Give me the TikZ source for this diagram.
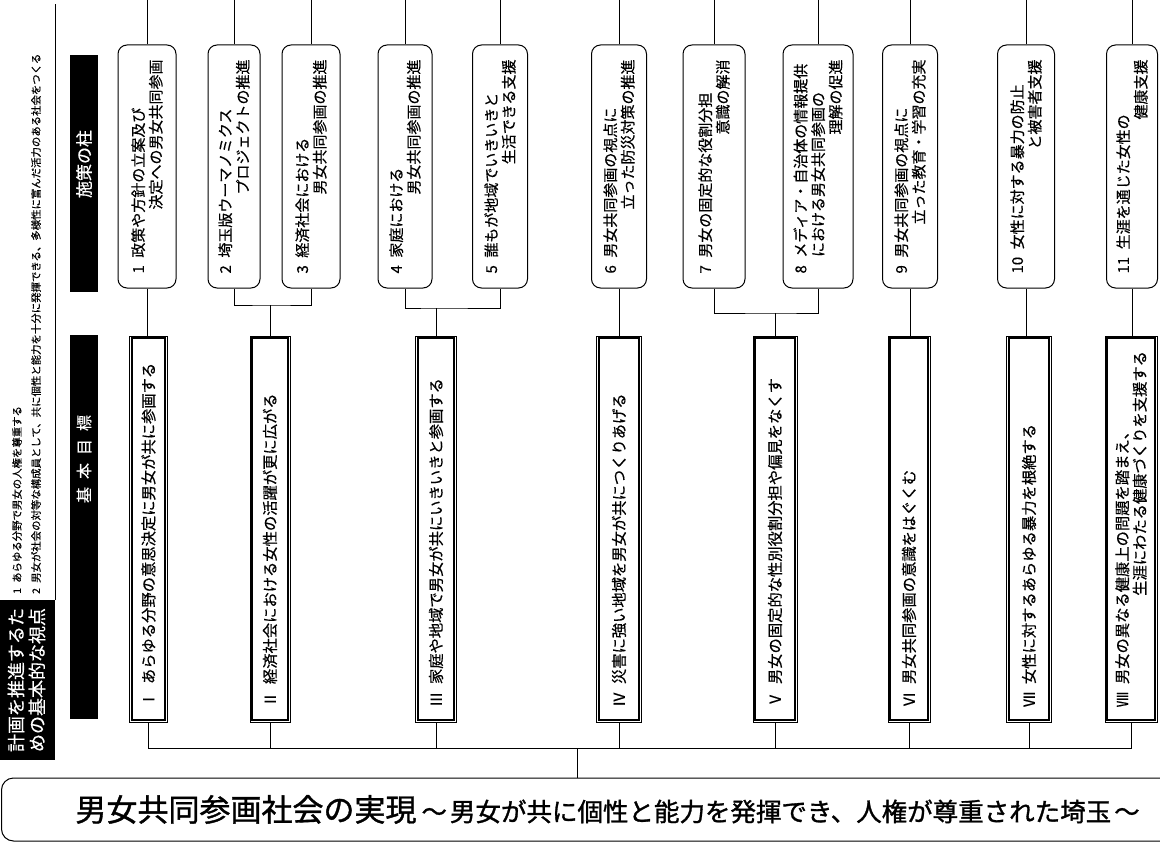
\documentclass[tikz,border=0pt]{standalone}
\usepackage{fontspec}
\newfontfamily\jpfont[FakeBold=0.4]{Noto Sans CJK JP}
\newfontfamily\jpbold[FakeBold=1.2]{Noto Sans CJK JP}
\usetikzlibrary{positioning}

\begin{document}
\begin{tikzpicture}[x=1pt, y=-1pt]
  % Define styles
  \tikzstyle{pillar} = [draw, rounded corners=9pt, line width=1pt, rotate=90, minimum width=243pt, text width=214pt, align=left, inner xsep=4pt, inner ysep=3pt, font={\jpfont\fontsize{15}{17.5}\selectfont}]
  \tikzstyle{goal} = [draw, line width=0.8pt, rotate=90, minimum width=386pt, text width=356pt, align=left, inner xsep=4pt, inner ysep=3pt, font={\jpfont\fontsize{15.3}{17.5}\selectfont}]
  \tikzstyle{header} = [fill=black, text=white, rotate=90, inner sep=2pt]
  \tikzstyle{note} = [rotate=90, inner sep=0pt, anchor=west, font={\jpfont\fontsize{10.4}{12}\selectfont}]
  \tikzstyle{line} = [draw, line width=1pt]

  \useasboundingbox (0,0) rectangle (1160,843);

  % Headers
  \node [header, minimum width=160pt, minimum height=57pt, align=left, font={\jpfont\fontsize{18}{21}\selectfont}] (plan) at (26.5,680) {計画を推進するた\\めの基本的な視点};
  \node [note] (note1) at (17,594) {1\enspace あらゆる分野で男女の人権を尊重する};
  \node [note] (note2) at (36,594) {2\enspace 男女が社会の対等な構成員として、共に個性と能力を十分に発揮できる、多様性に富んだ活力のある社会をつくる};
  \node [header, minimum width=237pt, minimum height=28pt, text width=225pt, align=left, font={\jpfont\fontsize{17}{17}\selectfont}] (hpillar) at (84,173.5) {\hspace*{88pt}施策の柱};
  \node [header, minimum width=384pt, minimum height=28pt, text width=372pt, align=left, font={\jpfont\fontsize{16}{16}\selectfont}] (hgoal) at (84,527) {\hspace*{210pt}基\enspace 本\enspace 目\enspace 標};

  % Pillars
  \node [pillar, minimum height=58pt] (p1) at (147,166.5) {1\enspace 政策や方針の立案及び\\\hfill 決定への男女共同参画};
  \node [pillar, minimum height=52pt] (p2) at (234,166.5) {2\enspace 埼玉版ウーマノミクス\\\hfill プロジェクトの推進};
  \node [pillar, minimum height=58pt] (p3) at (311,166.5) {3\enspace 経済社会における\\\hfill 男女共同参画の推進};
  \node [pillar, minimum height=54pt] (p4) at (405,166.5) {4\enspace 家庭における\\\hfill 男女共同参画の推進};
  \node [pillar, minimum height=55pt] (p5) at (500,166.5) {5\enspace 誰もが地域でいきいきと\\\hfill 生活できる支援};
  \node [pillar, minimum height=55pt] (p6) at (619,166.5) {6\enspace 男女共同参画の視点に\\\hfill 立った防災対策の推進};
  \node [pillar, minimum height=62pt] (p7) at (714,166.5) {7\enspace 男女の固定的な役割分担\\\hfill 意識の解消};
  \node [pillar, minimum height=70pt] (p8) at (818,166.5) {8\enspace メディア・自治体の情報提供\\\hspace*{1.1em}における男女共同参画の\\\hfill 理解の促進};
  \node [pillar, minimum height=55pt] (p9) at (910,166.5) {9\enspace 男女共同参画の視点に\\\hfill 立った教育・学習の充実};
  \node [pillar, minimum height=57pt] (p10) at (1026,166.5) {10\enspace 女性に対する暴力の防止\\\hfill と被害者支援};
  \node [pillar, minimum height=51pt] (p11) at (1132,166.5) {11\enspace 生涯を通じた女性の\\\hfill 健康支援};

  % Goals
  \node [goal, minimum height=38pt] (g1) at (148.5,529) {Ⅰ\enspace あらゆる分野の意思決定に男女が共に参画する};
  \node [goal, minimum height=40pt] (g2) at (270,529) {Ⅱ\enspace 経済社会における女性の活躍が更に広がる};
  \node [goal, minimum height=41pt] (g3) at (436,529) {Ⅲ\enspace 家庭や地域で男女が共にいきいきと参画する};
  \node [goal, minimum height=45pt] (g4) at (619,529) {Ⅳ\enspace 災害に強い地域を男女が共につくりあげる};
  \node [goal, minimum height=44pt] (g5) at (775,529) {Ⅴ\enspace 男女の固定的な性別役割分担や偏見をなくす};
  \node [goal, minimum height=42pt] (g6) at (909,529) {Ⅵ\enspace 男女共同参画の意識をはぐくむ};
  \node [goal, minimum height=45pt] (g7) at (1029,529) {Ⅶ\enspace 女性に対するあらゆる暴力を根絶する};
  \node [goal, minimum height=52pt] (g8) at (1131,529) {Ⅷ\enspace 男女の異なる健康上の問題を踏まえ、\\\hfill 生涯にわたる健康づくりを支援する};
  \foreach \i in {1,...,8}
    \draw [line width=1.7pt] ([shift={(2.6,2.6)}]g\i.north east) rectangle ([shift={(-2.6,-2.6)}]g\i.south west);

  % Title
  \node [draw, rounded corners=12pt, line width=1pt, anchor=west, minimum height=63pt, text width=1170pt, inner xsep=5pt, align=left] (title) at (1,809.5) {\hspace*{69pt}{\jpbold\fontsize{31}{31}\selectfont 男女共同参画社会の実現}\hspace{5pt}{\jpbold\fontsize{25.5}{26}\selectfont 〜\hspace{3pt}男女が共に個性と能力を発揮でき、人権が尊重された埼玉\hspace{3pt}〜}};

  % Draw edges
  \draw [line] (plan.south east) -- (plan.south east |- 0,4);
  \foreach \i in {1,...,11}
    \draw [line] (p\i.east) -- (p\i.east |- 0,0);
  \foreach \p/\g in {1/1, 6/4, 9/6, 10/7, 11/8}
    \draw [line] (p\p.west) -- (p\p.west |- g\g.east);
  \coordinate (j2) at (g2.east |- 0,305);
  \coordinate (j3) at (g3.east |- 0,308);
  \coordinate (j5) at (g5.east |- 0,313);
  \draw [line] (p2.west) |- (j2) -| (p3.west);
  \draw [line] (j2) -- (g2.east);
  \draw [line] (p4.west) |- (j3) -| (p5.west);
  \draw [line] (j3) -- (g3.east);
  \draw [line] (p7.west) |- (j5) -| (p8.west);
  \draw [line] (j5) -- (g5.east);
  \coordinate (bus) at (577,748);
  \draw [line] (g1.west) |- (g8.west |- bus) -- (g8.west);
  \foreach \i in {2,...,7}
    \draw [line] (g\i.west) -- (g\i.west |- bus);
  \draw [line] (bus) -- (bus |- title.north);
\end{tikzpicture}
\end{document}
